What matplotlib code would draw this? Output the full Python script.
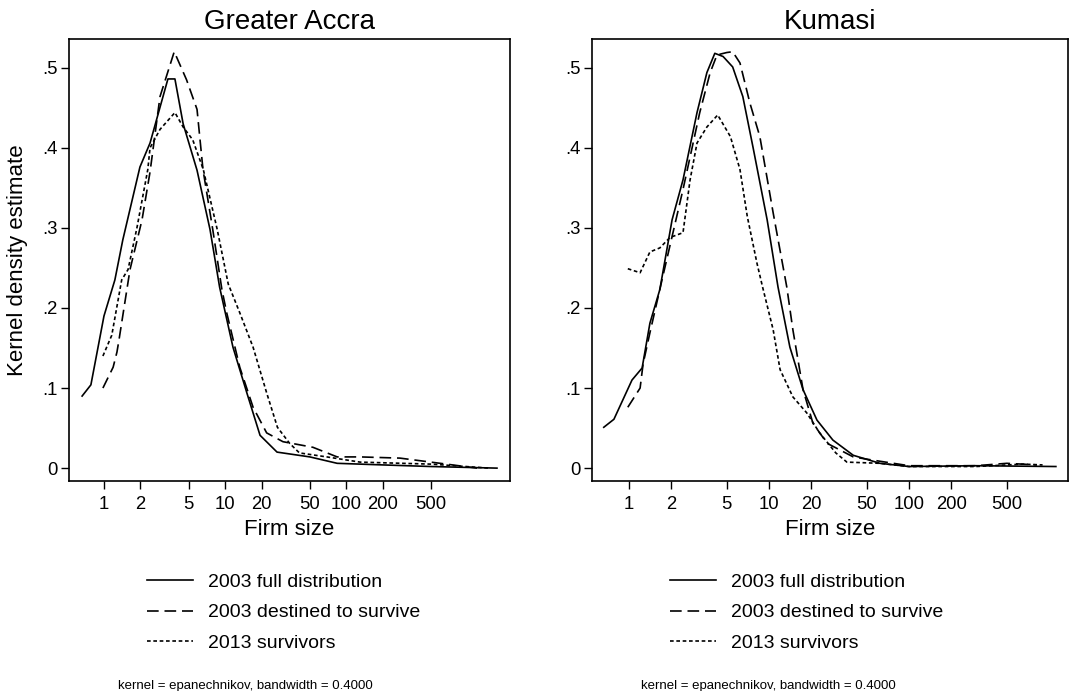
import matplotlib.pyplot as plt

plt.rcParams["font.family"] = ["Liberation Sans", "DejaVu Sans"]

# Greater Accra (firm size, density)
acc_full_x = [0.66, 0.78, 1.0, 1.23, 1.43, 1.98, 2.4, 3.37, 3.85, 4.5, 5.86, 7.5, 9.0,
              11.6, 15.1, 19.4, 26.8, 50, 84, 200, 500, 1750]
acc_full_y = [0.090, 0.104, 0.19, 0.235, 0.285, 0.376, 0.406, 0.486, 0.486, 0.43, 0.372,
              0.298, 0.226, 0.151, 0.094, 0.041, 0.020, 0.014, 0.006, 0.004, 0.002, 0.0]
acc_surv_x = [0.98, 1.19, 1.28, 1.33, 1.64, 2.06, 2.4, 2.9, 3.8, 4.8, 5.86, 6.56, 7.9,
              9.4, 10.3, 13.2, 17, 22, 30, 53, 84, 130, 277, 595, 1200]
acc_surv_y = [0.100, 0.126, 0.145, 0.16, 0.248, 0.31, 0.37, 0.464, 0.52, 0.485, 0.448,
              0.373, 0.298, 0.223, 0.194, 0.126, 0.076, 0.044, 0.033, 0.026, 0.014,
              0.014, 0.0125, 0.006, 0.0]
acc_2013_x = [0.98, 1.16, 1.4, 1.58, 1.87, 2.3, 2.4, 2.9, 3.85, 4.5, 5.4, 6.6, 8.6, 10.6,
              13.2, 17, 22, 27, 34, 41, 69, 130, 500, 1500]
acc_2013_y = [0.140, 0.166, 0.235, 0.248, 0.30, 0.373, 0.40, 0.423, 0.444, 0.426, 0.41,
              0.373, 0.298, 0.23, 0.194, 0.151, 0.094, 0.051, 0.031, 0.019, 0.014,
              0.0075, 0.005, 0.0]

# Kumasi
kum_full_x = [0.66, 0.78, 1.05, 1.24, 1.41, 1.66, 2.03, 2.43, 3.06, 3.6, 4.1, 4.7, 5.5,
              6.5, 7.7, 9.7, 11.6, 14.1, 17.5, 22, 28.6, 40, 62, 100, 300, 1120]
kum_full_y = [0.051, 0.061, 0.11, 0.125, 0.181, 0.223, 0.31, 0.36, 0.444, 0.494, 0.518,
              0.514, 0.501, 0.464, 0.40, 0.31, 0.226, 0.151, 0.098, 0.060, 0.035, 0.016,
              0.006, 0.002, 0.003, 0.002]
kum_surv_x = [0.98, 1.2, 1.26, 1.41, 1.72, 2.43, 3.2, 3.8, 4.25, 5.0, 5.5, 6.2, 7.3, 8.6,
              10.7, 13.4, 14.8, 17.5, 20.6, 26, 40, 55, 100, 300, 500, 820]
kum_surv_y = [0.076, 0.10, 0.13, 0.169, 0.235, 0.348, 0.444, 0.494, 0.516, 0.519, 0.52,
              0.506, 0.456, 0.414, 0.319, 0.226, 0.173, 0.098, 0.056, 0.031, 0.014, 0.010,
              0.003, 0.003, 0.006, 0.004]
kum_2013_x = [0.98, 1.2, 1.41, 1.66, 1.96, 2.43, 2.73, 3.06, 3.6, 4.3, 5.3, 6.2, 7.0, 8.2,
              9.0, 10.7, 12, 14.8, 18.6, 23, 30, 36, 62, 100, 300, 650, 900]
kum_2013_y = [0.249, 0.244, 0.27, 0.275, 0.288, 0.294, 0.36, 0.406, 0.426, 0.441, 0.414,
              0.373, 0.314, 0.256, 0.226, 0.173, 0.123, 0.089, 0.069, 0.044, 0.019,
              0.0075, 0.006, 0.002, 0.002, 0.005, 0.004]

titles = ["Greater Accra", "Kumasi"]
labels = ["2003 full distribution", "2003 destined to survive", "2013 survivors"]
xticks = [1, 2, 5, 10, 20, 50, 100, 200, 500]
yticks = [0, 0.1, 0.2, 0.3, 0.4, 0.5]
ytick_labels = ["0", ".1", ".2", ".3", ".4", ".5"]
note = "kernel = epanechnikov, bandwidth = 0.4000"

panels = [
    (acc_full_x, acc_full_y, acc_surv_x, acc_surv_y, acc_2013_x, acc_2013_y),
    (kum_full_x, kum_full_y, kum_surv_x, kum_surv_y, kum_2013_x, kum_2013_y),
]
rects = [[0.0645, 0.304, 0.4125, 0.6397], [0.5538, 0.304, 0.4453, 0.6397]]
xlims = [(0.514, 2238), (0.544, 1368)]

fig = plt.figure(figsize=(10.69, 6.91), dpi=100)
for i, (fx, fy, sx, sy, tx, ty) in enumerate(panels):
    ax = fig.add_axes(rects[i])
    ax.plot(fx, fy, color="black", lw=1.2, label=labels[0])
    ax.plot(sx, sy, color="black", lw=1.2, dashes=(7, 3.5), label=labels[1])
    ax.plot(tx, ty, color="black", lw=1.2, dashes=(2.2, 1.6), label=labels[2])
    ax.set_xscale("log")
    ax.set_xlim(*xlims[i])
    ax.set_ylim(-0.016, 0.536)
    ax.set_xticks(xticks)
    ax.set_xticklabels([str(t) for t in xticks])
    ax.minorticks_off()
    ax.set_yticks(yticks)
    ax.set_yticklabels(ytick_labels)
    ax.tick_params(direction="out", length=6, width=1, labelsize=13.3)
    ax.tick_params(axis="x", pad=5)
    ax.tick_params(axis="y", pad=2)
    for s in ax.spines.values():
        s.set_linewidth(1.2)
    ax.set_title(titles[i], fontsize=20, pad=7)
    ax.set_xlabel("Firm size", fontsize=16, labelpad=4)
    if i == 0:
        ax.set_ylabel("Kernel density estimate", fontsize=16, labelpad=10)
    x0 = rects[i][0]
    lx = x0 + (147 - 69) / 1069
    ax.legend(loc="upper left", bbox_to_anchor=(lx, 1 - 573 / 691),
              bbox_transform=fig.transFigure, frameon=False, fontsize=14,
              handlelength=2.37, handletextpad=0.77, labelspacing=0.68, borderpad=0,
              borderaxespad=0)
    fig.text(x0 + (118 - 69) / 1069, 1 - 686 / 691, note, fontsize=9.5, va="center")

fig.savefig("out.png", dpi=100)
